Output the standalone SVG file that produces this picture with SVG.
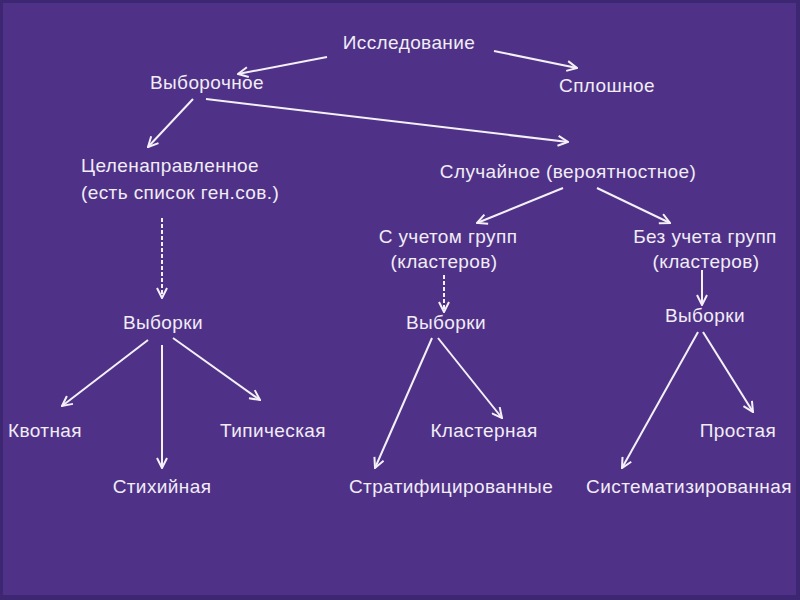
<svg xmlns="http://www.w3.org/2000/svg" width="800" height="600" viewBox="0 0 800 600">
<defs>
<marker id="ah" viewBox="0 0 12 12" refX="11" refY="6" markerWidth="12" markerHeight="12" markerUnits="userSpaceOnUse" orient="auto">
<path d="M1,1 L11,6 L1,11" fill="none" stroke="#F4F0F8" stroke-width="2"/>
</marker>
<style>
text{font-family:"Liberation Sans",Arial,sans-serif;font-size:19px;letter-spacing:0.4px;fill:#F1ECF6;text-anchor:middle}
.c line{stroke:#F4F0F8;stroke-width:2;marker-end:url(#ah)}
.c .d{stroke-dasharray:4 2}
</style>
</defs>
<rect x="0" y="0" width="800" height="600" fill="#3E2772"/>
<rect x="3" y="3" width="793" height="592" fill="#4F3288"/>
<g class="c" id="connectors">
<line x1="327" y1="57" x2="238" y2="74"/>
<line x1="494" y1="51" x2="577" y2="68"/>
<line x1="193" y1="99" x2="148" y2="147"/>
<line x1="206" y1="99" x2="568" y2="142"/>
<line class="d" x1="162" y1="218" x2="162" y2="298"/>
<line x1="563" y1="188" x2="477" y2="223"/>
<line x1="597" y1="188" x2="670" y2="223"/>
<line class="d" x1="444" y1="275" x2="444" y2="312"/>
<line x1="702" y1="270" x2="702" y2="305"/>
<line x1="148" y1="340" x2="62" y2="406"/>
<line x1="162" y1="345" x2="162" y2="468"/>
<line x1="173" y1="338" x2="260" y2="400"/>
<line x1="432" y1="338" x2="375" y2="468"/>
<line x1="438" y1="338" x2="502" y2="418"/>
<line x1="698" y1="332" x2="622" y2="468"/>
<line x1="703" y1="332" x2="753" y2="412"/>
</g>
<g id="n-issl"><text x="409" y="49">Исследование</text></g>
<g id="n-vyb"><text x="207" y="89">Выборочное</text></g>
<g id="n-spl"><text x="607" y="92">Сплошное</text></g>
<g id="n-cel"><text x="81" y="172" style="text-anchor:start">Целенаправленное</text><text x="81" y="199" style="text-anchor:start">(есть список ген.сов.)</text></g>
<g id="n-sluch"><text x="568" y="178">Случайное (вероятностное)</text></g>
<g id="n-sgr"><text x="448" y="243">С учетом групп</text><text x="444" y="268">(кластеров)</text></g>
<g id="n-bgr"><text x="705" y="243">Без учета групп</text><text x="706" y="268">(кластеров)</text></g>
<g id="n-v1"><text x="163" y="329">Выборки</text></g>
<g id="n-v2"><text x="446" y="329">Выборки</text></g>
<g id="n-v3"><text x="705" y="322">Выборки</text></g>
<g id="n-kvot"><text x="45" y="437">Квотная</text></g>
<g id="n-tip"><text x="273" y="437">Типическая</text></g>
<g id="n-stih"><text x="162" y="493">Стихийная</text></g>
<g id="n-klas"><text x="484" y="437">Кластерная</text></g>
<g id="n-prost"><text x="738" y="437">Простая</text></g>
<g id="n-strat"><text x="451" y="493">Стратифицированные</text></g>
<g id="n-sist"><text x="689" y="493">Систематизированная</text></g>
</svg>
